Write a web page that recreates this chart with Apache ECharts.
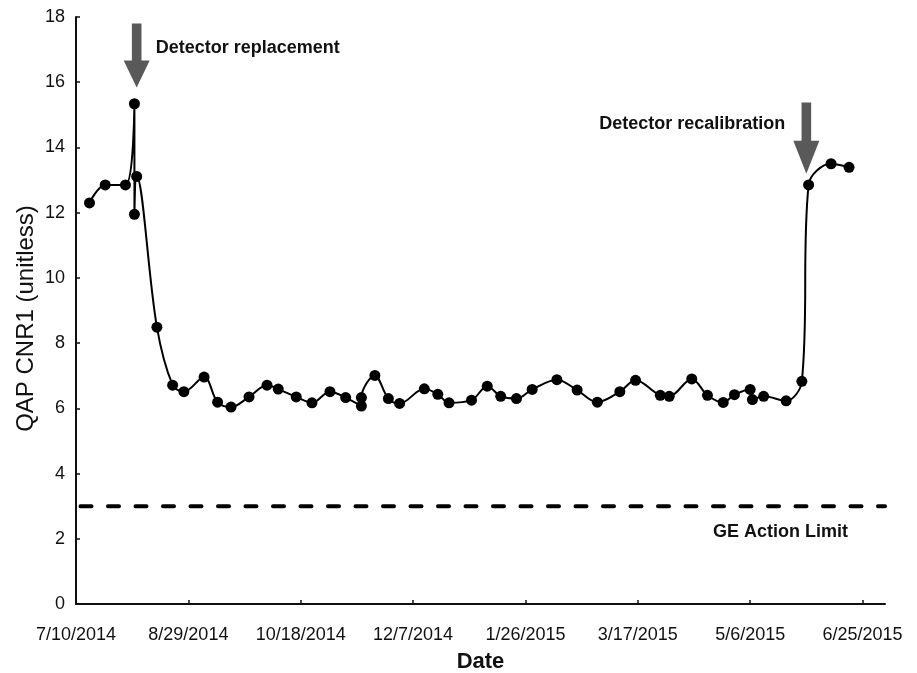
<!DOCTYPE html>
<html>
<head>
<meta charset="utf-8">
<title>QAP CNR1 trend</title>
<script src="https://cdn.jsdelivr.net/npm/echarts@6/dist/echarts.min.js"></script>
<style>
  html, body { margin: 0; padding: 0; background: #ffffff; }
  #chart { width: 917px; height: 673px; }
</style>
</head>
<body>
<div id="chart"></div>
<script>
// Measurement dates (M/D/YYYY) and the QAP CNR1 value recorded on each.
const measureDates = [
  '7/16/2014', '7/23/2014', '8/1/2014', '8/5/2014', '8/5/2014', '8/6/2014',
  '8/15/2014', '8/22/2014', '8/27/2014', '9/5/2014', '9/11/2014', '9/17/2014',
  '9/25/2014', '10/3/2014', '10/8/2014', '10/16/2014', '10/23/2014', '10/31/2014',
  '11/7/2014', '11/14/2014', '11/14/2014', '11/20/2014', '11/26/2014', '12/1/2014',
  '12/12/2014', '12/18/2014', '12/23/2014', '1/2/2015', '1/9/2015', '1/15/2015',
  '1/22/2015', '1/29/2015', '2/9/2015', '2/18/2015', '2/27/2015', '3/9/2015',
  '3/16/2015', '3/27/2015', '3/31/2015', '4/10/2015', '4/17/2015', '4/24/2015',
  '4/29/2015', '5/6/2015', '5/7/2015', '5/12/2015', '5/22/2015', '5/29/2015',
  '6/1/2015', '6/11/2015', '6/19/2015'
];
const cnrValues = [
  12.30, 12.85, 12.85, 15.34, 11.95, 13.11,
  8.49, 6.71, 6.51, 6.96, 6.19, 6.04,
  6.35, 6.71, 6.59, 6.35, 6.17, 6.51,
  6.33, 6.07, 6.33, 7.01, 6.30, 6.15,
  6.60, 6.43, 6.17, 6.25, 6.68, 6.37,
  6.30, 6.58, 6.88, 6.56, 6.19, 6.51,
  6.86, 6.40, 6.37, 6.90, 6.40, 6.18,
  6.42, 6.58, 6.27, 6.37, 6.23, 6.83,
  12.85, 13.50, 13.39
];

// Date axis: ticks every 50 days starting at the first date.
const axisStartDate = '7/10/2014';
const axisEndDate = '7/5/2015';
const xTickLabels = ['7/10/2014', '8/29/2014', '10/18/2014', '12/7/2014',
                     '1/26/2015', '3/17/2015', '5/6/2015', '6/25/2015'];
const xTickStepDays = 50;
const yTickLabels = ['0', '2', '4', '6', '8', '10', '12', '14', '16', '18'];

// Vendor action limit.
const actionLimit = 3.0;
const limitDates = ['7/12/2014', '7/5/2015'];
const limitLabel = 'GE Action Limit';

// Service events: arrow drawn from top value down to tip value.
const eventDates = ['8/6/2014', '5/31/2015'];
const eventArrowTop = [17.8, 15.38];
const eventArrowTip = [15.84, 13.19];
const eventLabels = ['Detector replacement', 'Detector recalibration'];

const FONT = "'Liberation Sans', Arial, sans-serif";

function dayIndex(s) {
  const [m, d, y] = s.split('/').map(Number);
  const [m0, d0, y0] = axisStartDate.split('/').map(Number);
  return Math.round((Date.UTC(y, m - 1, d) - Date.UTC(y0, m0 - 1, d0)) / 86400000);
}

const cnrPoints = measureDates.map((d, i) => [dayIndex(d), cnrValues[i]]);
const limitPoints = limitDates.map(d => [dayIndex(d), actionLimit]);
const eventData = eventDates.map((d, i) => [dayIndex(d), eventArrowTop[i], eventArrowTip[i]]);

const chart = echarts.init(document.getElementById('chart'), null, { renderer: 'canvas' });

const option = {
  animation: false,
  backgroundColor: '#ffffff',
  grid: { left: 76, right: 32, top: 17, bottom: 69, containLabel: false, outerBoundsMode: 'none' },
  xAxis: {
    type: 'value',
    min: 0,
    max: dayIndex(axisEndDate),
    interval: xTickStepDays,
    name: 'Date',
    nameLocation: 'middle',
    nameGap: 47,
    nameTextStyle: { fontFamily: FONT, fontSize: 22, fontWeight: 'bold', color: '#111' },
    splitLine: { show: false },
    axisLine: { lineStyle: { color: '#111', width: 2 } },
    axisTick: { inside: true, length: 4, lineStyle: { color: '#111', width: 1.5 } },
    axisLabel: {
      margin: 22,
      fontFamily: FONT, fontSize: 18, color: '#111',
      showMaxLabel: false,
      formatter: v => (v % xTickStepDays === 0 ? (xTickLabels[v / xTickStepDays] || '') : '')
    }
  },
  yAxis: {
    type: 'value',
    min: 0,
    max: 18,
    interval: 2,
    name: 'QAP CNR1 (unitless)',
    nameLocation: 'middle',
    nameGap: 38,
    nameMoveOverlap: false,
    nameTextStyle: { fontFamily: FONT, fontSize: 24, color: '#111', padding: [0, 16, 0, 0] },
    splitLine: { show: false },
    axisLine: { show: true, lineStyle: { color: '#111', width: 2 } },
    axisTick: { show: true, inside: true, length: 4, lineStyle: { color: '#111', width: 1.5 } },
    axisLabel: {
      margin: 11,
      padding: [3, 0, 0, 0],
      fontFamily: FONT, fontSize: 18, color: '#111',
      formatter: v => yTickLabels[v / 2]
    }
  },
  series: [
    {
      name: 'GE Action Limit',
      type: 'line',
      data: limitPoints,
      symbol: 'none',
      silent: true,
      lineStyle: { color: '#000', width: 4, type: [11, 16.5], cap: 'round' },
      z: 2
    },
    {
      name: 'QAP CNR1',
      type: 'line',
      data: cnrPoints,
      smooth: 0.35,
      symbol: 'circle',
      symbolSize: 11,
      itemStyle: { color: '#000' },
      lineStyle: { color: '#000', width: 2 },
      z: 3
    },
    {
      name: 'Service events',
      type: 'custom',
      data: eventData,
      encode: { x: 0, y: [1, 2] },
      clip: false,
      silent: true,
      z: 4,
      renderItem(params, api) {
        const idx = params.dataIndex;
        const top = api.coord([api.value(0), api.value(1)]);
        const tip = api.coord([api.value(0), api.value(2)]);
        const x = tip[0];
        const shaftHalf = 4.8, headHalf = 13, headLen = idx === 0 ? 27 : 33;
        const neck = tip[1] - headLen;
        const leftSide = idx === 1;
        return {
          type: 'group',
          children: [
            {
              type: 'polygon',
              shape: {
                points: [
                  [x - shaftHalf, top[1]], [x + shaftHalf, top[1]],
                  [x + shaftHalf, neck], [x + headHalf, neck],
                  [x, tip[1]],
                  [x - headHalf, neck], [x - shaftHalf, neck]
                ]
              },
              style: { fill: '#595959' }
            },
            {
              type: 'text',
              x: leftSide ? x - 21 : x + 19,
              y: top[1] + (leftSide ? 22 : 25),
              style: {
                text: eventLabels[idx],
                fill: '#111',
                font: "bold 18px " + FONT,
                align: leftSide ? 'right' : 'left',
                verticalAlign: 'middle'
              }
            }
          ]
        };
      }
    }
  ]
};

chart.setOption(option);

// Caption under the action-limit line, anchored to its right end.
const limitEnd = chart.convertToPixel({ gridIndex: 0 }, limitPoints[limitPoints.length - 1]);
chart.setOption({
  graphic: [{
    type: 'text',
    left: limitEnd[0] - 172,
    top: limitEnd[1] + 17,
    style: {
      text: limitLabel,
      fill: '#111',
      font: "bold 18px " + FONT
    }
  }]
});
</script>
</body>
</html>
